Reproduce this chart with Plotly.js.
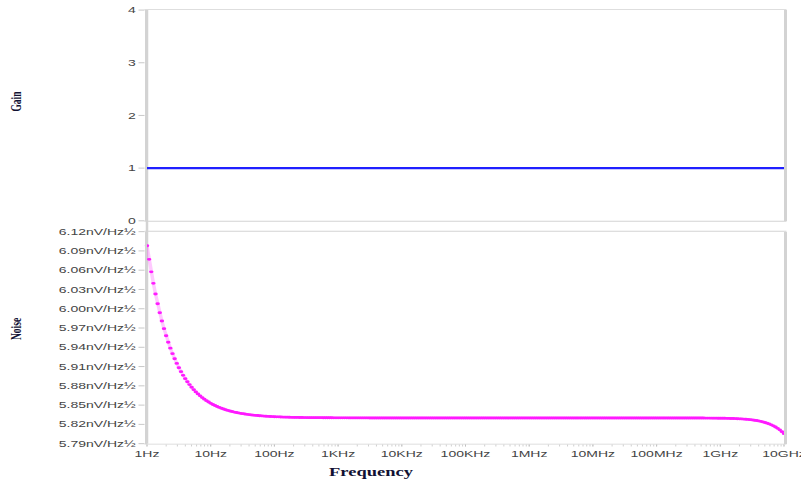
<!DOCTYPE html>
<html>
<head>
<meta charset="utf-8">
<script src="https://cdn.plot.ly/plotly-3.0.1.min.js"></script>
<style>
  html, body { margin: 0; padding: 0; overflow: hidden; background: #fff; }
  /* the plot is laid out tall and compressed vertically into the 484px window */
  #chart { width: 801px; height: 768px; transform: scaleY(0.6302); transform-origin: 0 0; }
</style>
</head>
<body>
<div id="chart"></div>
<script>
// Sweep frequencies (Hz), 30 points per decade, 1 Hz .. 10 GHz
const freqHz = [
  1, 1.08, 1.166, 1.259, 1.359, 1.468, 1.585, 1.711, 1.848, 1.995, 2.154, 2.326, 2.512, 2.712, 2.929, 3.162, 3.415, 3.687, 3.981, 4.299, 4.642, 5.012, 5.412, 5.843, 6.31, 6.813, 7.356, 7.943, 8.577, 9.261,
  10, 10.8, 11.66, 12.59, 13.59, 14.68, 15.85, 17.11, 18.48, 19.95, 21.54, 23.26, 25.12, 27.12, 29.29, 31.62, 34.15, 36.87, 39.81, 42.99, 46.42, 50.12, 54.12, 58.43, 63.1, 68.13, 73.56, 79.43, 85.77, 92.61,
  100, 108, 116.6, 125.9, 135.9, 146.8, 158.5, 171.1, 184.8, 199.5, 215.4, 232.6, 251.2, 271.2, 292.9, 316.2, 341.5, 368.7, 398.1, 429.9, 464.2, 501.2, 541.2, 584.3, 631, 681.3, 735.6, 794.3, 857.7, 926.1,
  1e3, 1.08e3, 1.166e3, 1.259e3, 1.359e3, 1.468e3, 1.585e3, 1.711e3, 1.848e3, 1.995e3, 2.154e3, 2.326e3, 2.512e3, 2.712e3, 2.929e3, 3.162e3, 3.415e3, 3.687e3, 3.981e3, 4.299e3, 4.642e3, 5.012e3, 5.412e3, 5.843e3, 6.31e3, 6.813e3, 7.356e3, 7.943e3, 8.577e3, 9.261e3,
  1e4, 1.08e4, 1.166e4, 1.259e4, 1.359e4, 1.468e4, 1.585e4, 1.711e4, 1.848e4, 1.995e4, 2.154e4, 2.326e4, 2.512e4, 2.712e4, 2.929e4, 3.162e4, 3.415e4, 3.687e4, 3.981e4, 4.299e4, 4.642e4, 5.012e4, 5.412e4, 5.843e4, 6.31e4, 6.813e4, 7.356e4, 7.943e4, 8.577e4, 9.261e4,
  1e5, 1.08e5, 1.166e5, 1.259e5, 1.359e5, 1.468e5, 1.585e5, 1.711e5, 1.848e5, 1.995e5, 2.154e5, 2.326e5, 2.512e5, 2.712e5, 2.929e5, 3.162e5, 3.415e5, 3.687e5, 3.981e5, 4.299e5, 4.642e5, 5.012e5, 5.412e5, 5.843e5, 6.31e5, 6.813e5, 7.356e5, 7.943e5, 8.577e5, 9.261e5,
  1e6, 1.08e6, 1.166e6, 1.259e6, 1.359e6, 1.468e6, 1.585e6, 1.711e6, 1.848e6, 1.995e6, 2.154e6, 2.326e6, 2.512e6, 2.712e6, 2.929e6, 3.162e6, 3.415e6, 3.687e6, 3.981e6, 4.299e6, 4.642e6, 5.012e6, 5.412e6, 5.843e6, 6.31e6, 6.813e6, 7.356e6, 7.943e6, 8.577e6, 9.261e6,
  1e7, 1.08e7, 1.166e7, 1.259e7, 1.359e7, 1.468e7, 1.585e7, 1.711e7, 1.848e7, 1.995e7, 2.154e7, 2.326e7, 2.512e7, 2.712e7, 2.929e7, 3.162e7, 3.415e7, 3.687e7, 3.981e7, 4.299e7, 4.642e7, 5.012e7, 5.412e7, 5.843e7, 6.31e7, 6.813e7, 7.356e7, 7.943e7, 8.577e7, 9.261e7,
  1e8, 1.08e8, 1.166e8, 1.259e8, 1.359e8, 1.468e8, 1.585e8, 1.711e8, 1.848e8, 1.995e8, 2.154e8, 2.326e8, 2.512e8, 2.712e8, 2.929e8, 3.162e8, 3.415e8, 3.687e8, 3.981e8, 4.299e8, 4.642e8, 5.012e8, 5.412e8, 5.843e8, 6.31e8, 6.813e8, 7.356e8, 7.943e8, 8.577e8, 9.261e8,
  1e9, 1.08e9, 1.166e9, 1.259e9, 1.359e9, 1.468e9, 1.585e9, 1.711e9, 1.848e9, 1.995e9, 2.154e9, 2.326e9, 2.512e9, 2.712e9, 2.929e9, 3.162e9, 3.415e9, 3.687e9, 3.981e9, 4.299e9, 4.642e9, 5.012e9, 5.412e9, 5.843e9, 6.31e9, 6.813e9, 7.356e9, 7.943e9, 8.577e9, 9.261e9,
  1e10
];

// Output noise density (nV/Hz½) at each sweep point
const noiseNv = [
  6.0980, 6.0769, 6.0574, 6.0395, 6.0230, 6.0078, 5.9938, 5.9809, 5.9690, 5.9580,
  5.9479, 5.9386, 5.9301, 5.9222, 5.9149, 5.9082, 5.9021, 5.8964, 5.8912, 5.8863,
  5.8819, 5.8778, 5.8740, 5.8706, 5.8674, 5.8644, 5.8617, 5.8592, 5.8569, 5.8548,
  5.8528, 5.8510, 5.8494, 5.8478, 5.8464, 5.8451, 5.8439, 5.8428, 5.8418, 5.8409,
  5.8400, 5.8392, 5.8385, 5.8379, 5.8372, 5.8367, 5.8361, 5.8356, 5.8352, 5.8348,
  5.8344, 5.8341, 5.8338, 5.8335, 5.8332, 5.8329, 5.8327, 5.8325, 5.8323, 5.8321,
  5.8319, 5.8318, 5.8317, 5.8315, 5.8314, 5.8313, 5.8312, 5.8311, 5.8310, 5.8309,
  5.8308, 5.8308, 5.8307, 5.8307, 5.8306, 5.8306, 5.8305, 5.8305, 5.8305, 5.8304,
  5.8304, 5.8304, 5.8304, 5.8303, 5.8303, 5.8303, 5.8303, 5.8303, 5.8302, 5.8302,
  5.8302, 5.8302, 5.8302, 5.8302, 5.8302, 5.8301, 5.8301, 5.8301, 5.8301, 5.8301,
  5.8301, 5.8301, 5.8301, 5.8301, 5.8301, 5.83, 5.83, 5.83, 5.83, 5.83,
  5.83, 5.83, 5.83, 5.83, 5.83, 5.83, 5.83, 5.83, 5.83, 5.83,
  5.83, 5.83, 5.83, 5.83, 5.83, 5.83, 5.83, 5.83, 5.83, 5.83,
  5.83, 5.83, 5.83, 5.83, 5.83, 5.83, 5.83, 5.83, 5.83, 5.83,
  5.83, 5.83, 5.83, 5.83, 5.83, 5.83, 5.83, 5.83, 5.83, 5.83,
  5.83, 5.83, 5.83, 5.83, 5.83, 5.83, 5.83, 5.83, 5.83, 5.83,
  5.83, 5.83, 5.83, 5.83, 5.83, 5.83, 5.83, 5.83, 5.83, 5.83,
  5.83, 5.83, 5.83, 5.83, 5.83, 5.83, 5.83, 5.83, 5.83, 5.83,
  5.83, 5.83, 5.83, 5.83, 5.83, 5.83, 5.83, 5.83, 5.83, 5.83,
  5.83, 5.83, 5.83, 5.83, 5.83, 5.83, 5.83, 5.83, 5.83, 5.83,
  5.83, 5.83, 5.83, 5.83, 5.83, 5.83, 5.83, 5.83, 5.83, 5.83,
  5.83, 5.83, 5.83, 5.83, 5.83, 5.83, 5.83, 5.83, 5.83, 5.83,
  5.83, 5.83, 5.83, 5.83, 5.83, 5.83, 5.83, 5.83, 5.83, 5.83,
  5.83, 5.83, 5.83, 5.83, 5.83, 5.83, 5.83, 5.83, 5.83, 5.83,
  5.83, 5.83, 5.83, 5.83, 5.83, 5.83, 5.83, 5.83, 5.83, 5.83,
  5.83, 5.83, 5.83, 5.83, 5.83, 5.83, 5.83, 5.83, 5.83, 5.83,
  5.8299, 5.8299, 5.8299, 5.8298, 5.8298, 5.8298, 5.8297, 5.8297, 5.8297, 5.8296,
  5.8296, 5.8295, 5.8295, 5.8294, 5.8293, 5.8292, 5.8291, 5.8290, 5.8288, 5.8287,
  5.8285, 5.8282, 5.8280, 5.8277, 5.8273, 5.8269, 5.8265, 5.8260, 5.8254, 5.8247,
  5.8239, 5.8230, 5.8219, 5.8207, 5.8193, 5.8178, 5.8160, 5.8139, 5.8115, 5.8087,
  5.8056
];

// Gain (V/V), flat across the band
const gainFreqHz = [1, 10, 100, 1e3, 1e4, 1e5, 1e6, 1e7, 1e8, 1e9, 1e10];
const gainVv     = [1, 1, 1, 1, 1, 1, 1, 1, 1, 1, 1];

// Axis ticks
const freqTickVals = [1, 10, 100, 1e3, 1e4, 1e5, 1e6, 1e7, 1e8, 1e9, 1e10];
const freqTickText = ['1Hz', '10Hz', '100Hz', '1KHz', '10KHz', '100KHz', '1MHz', '10MHz', '100MHz', '1GHz', '10GHz'];
const gainTickVals = [0, 1, 2, 3, 4];
const noiseTickVals = [5.79, 5.82, 5.85, 5.88, 5.91, 5.94, 5.97, 6.00, 6.03, 6.06, 6.09, 6.12];
const noiseTickText = ['5.79nV/Hz½', '5.82nV/Hz½', '5.85nV/Hz½', '5.88nV/Hz½', '5.91nV/Hz½', '5.94nV/Hz½',
                       '5.97nV/Hz½', '6.00nV/Hz½', '6.03nV/Hz½', '6.06nV/Hz½', '6.09nV/Hz½', '6.12nV/Hz½'];

const frameColor = '#d3d3d3';
const tickFont = { family: 'Liberation Sans, Arial, sans-serif', size: 14, color: '#444' };
const titleFont = { family: 'Liberation Serif, Times New Roman, serif', size: 15, color: '#111133' };

const traces = [
  {
    x: gainFreqHz, y: gainVv, xaxis: 'x2', yaxis: 'y',
    type: 'scatter', mode: 'lines',
    line: { color: '#2020ff', width: 3.5 },
    hoverinfo: 'skip'
  },
  {
    x: freqHz, y: noiseNv, xaxis: 'x', yaxis: 'y2',
    type: 'scatter', mode: 'lines+markers',
    line: { color: 'rgba(255,60,255,0.28)', width: 3.5 },
    marker: { color: '#ff1aff', size: 4.5, line: { width: 0 } },
    cliponaxis: false,
    hoverinfo: 'skip'
  }
];

const baseX = {
  type: 'log', range: [0, 10],
  showgrid: false, zeroline: false,
  showline: true, mirror: true, linecolor: frameColor, linewidth: 1.5
};

const layout = {
  width: 801, height: 768,
  margin: { l: 147, r: 17, t: 16, b: 64 },
  paper_bgcolor: '#ffffff', plot_bgcolor: '#ffffff',
  showlegend: false,
  xaxis: Object.assign({}, baseX, {
    anchor: 'y2',
    tickvals: freqTickVals, ticktext: freqTickText,
    ticks: 'outside', ticklen: 3, tickcolor: '#bbbbbb', tickfont: tickFont,
    ticklabeloverflow: 'allow',
    minor: { ticks: 'outside', ticklen: 3, tickcolor: '#c4c4c4', dtick: 'D1', showgrid: false }
  }),
  xaxis2: Object.assign({}, baseX, {
    anchor: 'y', matches: 'x', showticklabels: false, ticks: ''
  }),
  yaxis: {
    domain: [0.514, 1], range: [0, 4],
    tickvals: gainTickVals,
    showgrid: false, zeroline: false,
    showline: true, mirror: true, linecolor: frameColor, linewidth: 2.5,
    ticks: 'outside', ticklen: 6, tickcolor: '#bbbbbb', tickfont: tickFont
  },
  yaxis2: {
    domain: [0, 0.489], range: [5.79, 6.12],
    tickvals: noiseTickVals, ticktext: noiseTickText,
    showgrid: false, zeroline: false,
    showline: true, mirror: true, linecolor: frameColor, linewidth: 2.5,
    ticks: 'outside', ticklen: 6, tickcolor: '#bbbbbb', tickfont: tickFont
  },
  shapes: [
    // left frame edge runs through the gap between the two panels
    { type: 'line', xref: 'paper', yref: 'paper', x0: 0, x1: 0, y0: 0, y1: 1,
      line: { color: frameColor, width: 2.5 }, layer: 'below' }
  ],
  annotations: [
    { text: '<b>Gain</b>', xref: 'paper', yref: 'paper', x: -0.205, y: 0.79,
      xanchor: 'center', yanchor: 'middle', textangle: -90, showarrow: false, font: titleFont },
    { text: '<b>Noise</b>', xref: 'paper', yref: 'paper', x: -0.205, y: 0.2645,
      xanchor: 'center', yanchor: 'middle', textangle: -90, showarrow: false, font: titleFont },
    { text: '<b>Frequency</b>', xref: 'paper', yref: 'paper', x: 0.353, y: -0.067,
      xanchor: 'center', yanchor: 'middle', showarrow: false,
      font: { family: 'Liberation Serif, Times New Roman, serif', size: 18.5, color: '#111133' } }
  ]
};

Plotly.newPlot('chart', traces, layout, { staticPlot: true, displayModeBar: false });
</script>
</body>
</html>
